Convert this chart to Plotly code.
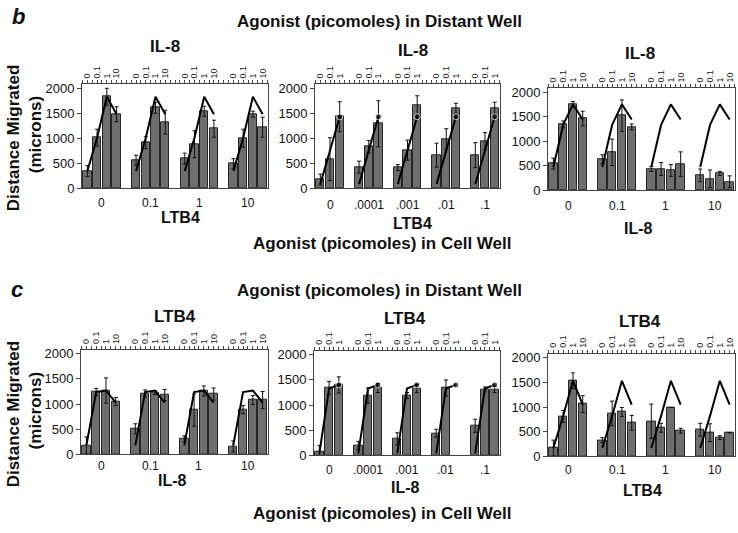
import plotly.graph_objects as go

W, H = 738, 533

# panel b: IL-8 / LTB4 in distant well vs agonist in cell well
b1_groups = ["0", "0.1", "1", "10"]
b1_doses = ["0", "0.1", "1", "10"]
b1_mean = [[340, 1010, 1830, 1480], [560, 910, 1610, 1320],
           [590, 880, 1540, 1190], [490, 1000, 1480, 1220]]
b1_err = [[110, 170, 170, 150], [100, 120, 110, 240],
          [110, 270, 100, 170], [100, 180, 60, 200]]
b1_ref = [340, 1010, 1830, 1480]

b2_groups = ["0", ".0001", ".001", ".01", ".1"]
b2_doses = ["0", "0.1", "1"]
b2_mean = [[170, 580, 1430], [420, 830, 1290], [410, 760, 1650],
           [660, 980, 1600], [660, 940, 1600]]
b2_err = [[110, 430, 300], [120, 125, 460], [60, 200, 200],
          [240, 210, 100], [250, 170, 120]]
b2_ref = [80, 740, 1430]

b3_groups = ["0", "0.1", "1", "10"]
b3_doses = ["0", "0.1", "1", "10"]
b3_mean = [[540, 1340, 1750, 1460], [630, 770, 1520, 1290],
           [430, 430, 400, 530], [300, 230, 340, 170]]
b3_err = [[110, 70, 60, 150], [90, 270, 320, 60],
          [50, 130, 120, 250], [130, 180, 40, 120]]
b3_ref = [470, 1330, 1750, 1440]

# panel c
c1_groups = ["0", "0.1", "1", "10"]
c1_doses = ["0", "0.1", "1", "10"]
c1_mean = [[180, 1240, 1270, 1050], [510, 1210, 1230, 1180],
           [310, 880, 1260, 1200], [160, 890, 1080, 1080]]
c1_err = [[170, 70, 250, 80], [100, 70, 40, 110],
          [60, 320, 100, 120], [110, 80, 90, 170]]
c1_ref = [180, 1240, 1270, 1030]

c2_groups = ["0", ".0001", ".001", ".01", ".1"]
c2_doses = ["0", "0.1", "1"]
c2_mean = [[80, 1340, 1400], [200, 1190, 1340], [330, 1190, 1330],
           [440, 1340, None], [590, 1310, 1310]]
c2_err = [[120, 130, 160], [80, 150, 90], [120, 60, 80],
          [80, 160, 0], [130, 50, 60]]
c2_ref = [40, 1330, 1400]

c3_groups = ["0", "0.1", "1", "10"]
c3_doses = ["0", "0.1", "1", "10"]
c3_mean = [[170, 810, 1530, 1060], [330, 870, 900, 680],
           [710, 580, 990, 520], [540, 480, 380, 480]]
c3_err = [[160, 120, 160, 170], [50, 250, 90, 150],
          [350, 90, 0, 50], [130, 180, 40, 0]]
c3_ref = [170, 820, 1530, 1050]

y_ticks = [0, 500, 1000, 1500, 2000]

FONT = "Liberation Sans, Arial, sans-serif"


def fx(p):
    return p / W


def fy(p):
    return 1 - p / H


def label(x, y, text, size, angle=0):
    # paper annotation placed by its centre, in pixels from top-left
    return dict(x=fx(x), y=fy(y), xref="paper", yref="paper", text=text,
                showarrow=False, xanchor="center", yanchor="middle",
                textangle=angle, font=dict(family=FONT, size=size, color="#111"))


panels = [
    dict(g=b1_groups, d=b1_doses, m=b1_mean, e=b1_err, r=b1_ref,
         dx=(82, 268), dy=(83, 189), title="IL-8", tp=(165, 44),
         gy=204, sub="LTB4", sp=(180, 219), dot=False),
    dict(g=b2_groups, d=b2_doses, m=b2_mean, e=b2_err, r=b2_ref,
         dx=(315, 500), dy=(83, 189), title="IL-8", tp=(413, 49),
         gy=206, sub="LTB4", sp=(412, 225), dot=True),
    dict(g=b3_groups, d=b3_doses, m=b3_mean, e=b3_err, r=b3_ref,
         dx=(548, 735), dy=(87, 191), title="IL-8", tp=(640, 52),
         gy=207, sub="IL-8", sp=(638, 230), dot=False),
    dict(g=c1_groups, d=c1_doses, m=c1_mean, e=c1_err, r=c1_ref,
         dx=(81, 268), dy=(354, 461), title="LTB4", tp=(175, 320),
         gy=473, sub="IL-8", sp=(172, 488), dot=False),
    dict(g=c2_groups, d=c2_doses, m=c2_mean, e=c2_err, r=c2_ref,
         dx=(314, 500), dy=(355, 462), title="LTB4", tp=(405, 322),
         gy=477, sub="IL-8", sp=(405, 495), dot=True),
    dict(g=c3_groups, d=c3_doses, m=c3_mean, e=c3_err, r=c3_ref,
         dx=(548, 735), dy=(358, 463), title="LTB4", tp=(640, 325),
         gy=477, sub="LTB4", sp=(642, 498), dot=False),
]

fig = go.Figure()
annotations = []

for n, p in enumerate(panels, start=1):
    xa = "x" if n == 1 else f"x{n}"
    ya = "y" if n == 1 else f"y{n}"
    slot = len(p["d"]) + 1
    bx, by, be = [], [], []
    lx, ly, ls = [], [], []
    tickvals, ticktext, centers = [], [], []
    for gi, (vals, errs) in enumerate(zip(p["m"], p["e"])):
        pos = [gi * slot + i for i in range(len(vals))]
        bx += pos
        by += vals
        be += errs
        lx += pos + [None]
        ly += p["r"] + [None]
        ls += [0] * (len(pos) - 1) + [6 if p["dot"] else 0] + [0]
        tickvals += pos
        ticktext += p["d"]
        centers.append(sum(pos) / len(pos))

    fig.add_trace(go.Bar(
        x=bx, y=by, width=0.86, xaxis=xa, yaxis=ya, showlegend=False,
        marker=dict(color="#6e6e6e", line=dict(color="#262626", width=1)),
        error_y=dict(type="data", array=be, color="#111111",
                     thickness=1, width=2),
    ))
    fig.add_trace(go.Scatter(
        x=lx, y=ly, mode="lines+markers", xaxis=xa, yaxis=ya,
        showlegend=False, connectgaps=False,
        line=dict(color="black", width=2),
        marker=dict(color="black", size=ls),
    ))

    last = bx[-1]
    fig.layout[f"xaxis{'' if n == 1 else n}"] = dict(
        domain=[fx(p["dx"][0]), fx(p["dx"][1])],
        range=[-0.55, last + 0.55], anchor=ya, side="top",
        tickmode="array", tickvals=tickvals, ticktext=ticktext,
        tickangle=-90, tickfont=dict(family=FONT, size=9, color="#222"),
        ticks="outside", ticklen=3, tickcolor="#444",
        minor=dict(dtick=0.5, tick0=0, ticks="outside", ticklen=3,
                   tickcolor="#444"),
        showline=True, mirror=True, linecolor="#444", linewidth=1,
        showgrid=False, zeroline=False, fixedrange=True,
    )
    fig.layout[f"yaxis{'' if n == 1 else n}"] = dict(
        domain=[fy(p["dy"][1]), fy(p["dy"][0])],
        range=[0, 2080], anchor=xa,
        tickmode="array", tickvals=y_ticks,
        tickfont=dict(family=FONT, size=13, color="#111"),
        ticks="outside", ticklen=4, tickcolor="#444",
        showline=True, mirror=True, linecolor="#444", linewidth=1,
        showgrid=False, zeroline=False, fixedrange=True,
    )

    for c, lab in zip(centers, p["g"]):
        annotations.append(dict(
            x=c, y=fy(p["gy"]), xref=xa, yref="paper", text=lab,
            showarrow=False, xanchor="center", yanchor="middle",
            font=dict(family=FONT, size=12, color="#111"),
        ))
    annotations.append(label(p["tp"][0], p["tp"][1], f"<b>{p['title']}</b>", 17))
    annotations.append(label(p["sp"][0], p["sp"][1], f"<b>{p['sub']}</b>", 16))

# figure level text
annotations.append(label(18, 14, "<b><i>b</i></b>", 22))
annotations.append(label(17, 293, "<b><i>c</i></b>", 22))
for txt, xx, yy in (("Agonist (picomoles) in Distant Well", 379, 19),
                    ("Agonist (picomoles) in Cell Well", 382, 246),
                    ("Agonist (picomoles) in Distant Well", 379, 294),
                    ("Agonist (picomoles) in Cell Well", 382, 521)):
    annotations.append(label(xx, yy, f"<b>{txt}</b>", 17))
for yc in (138, 420):
    annotations.append(label(13, yc, "<b>Distance Migrated</b>", 17, -90))
    annotations.append(label(35, yc - 3, "<b>(microns)</b>", 17, -90))

fig.update_layout(
    width=W, height=H,
    margin=dict(l=0, r=0, t=0, b=0),
    paper_bgcolor="white", plot_bgcolor="white",
    annotations=annotations,
    bargap=0,
)

fig.write_html("out.html", config={"displayModeBar": False},
               post_script="document.body.style.margin='0';")
